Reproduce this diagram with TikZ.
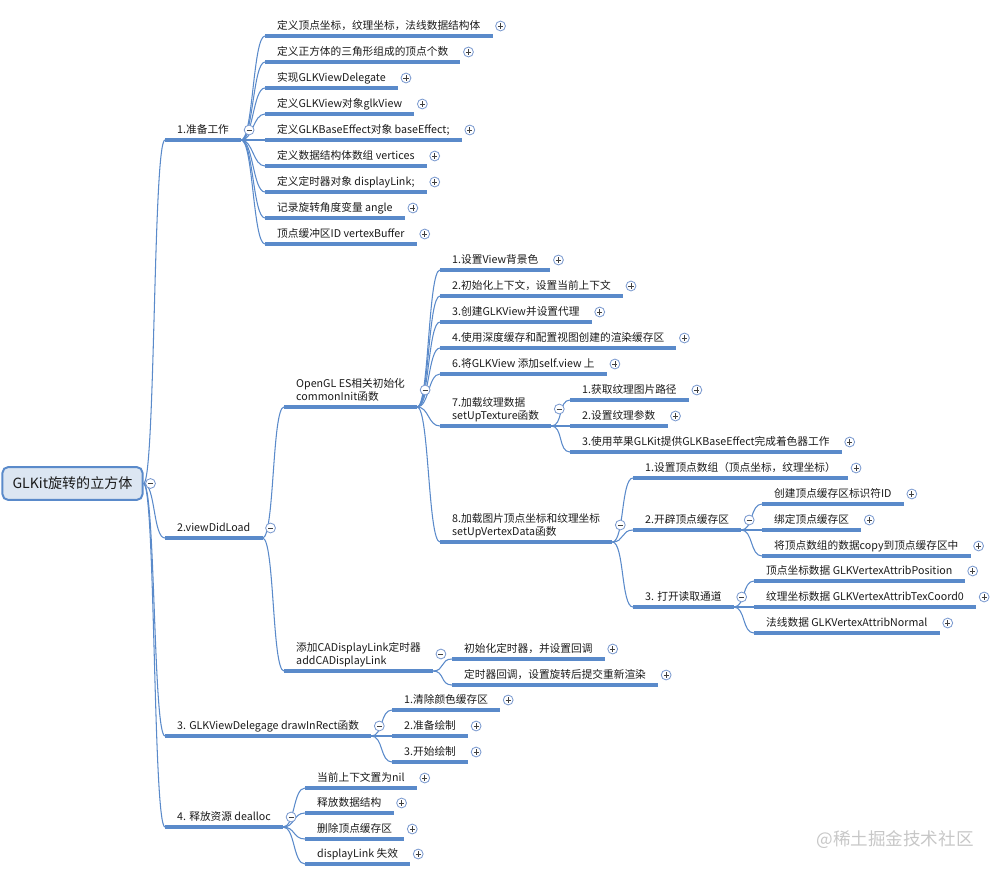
\documentclass[tikz,border=0pt]{standalone}
\usepackage{fontspec}
\setmainfont{Noto Sans CJK SC}
\usetikzlibrary{calc}
\definecolor{lnblue}{HTML}{5A8ACA}
\definecolor{rootfill}{HTML}{DCE6F2}
\definecolor{togblue}{HTML}{7C9BD0}
\definecolor{txtgray}{HTML}{1A1A1A}
\newcommand{\twoline}[2]{\begin{tabular}[b]{@{}l@{}}#1\\#2\end{tabular}}
\newcommand{\mmlink}[2]{\draw[link] (#1) .. controls +(12,0) and +(-12,0) .. (#2.south west);}
\newcommand{\mmtog}[3]{\node[#2] (#1-t) at ($(#1.south east)+(8,#3)$) {};}
\tikzset{
  topic/.style  = {anchor=south west, inner xsep=8.5pt, inner ysep=0pt,
                   text height=6.2pt, text depth=4.2pt, text=txtgray,
                   font=\fontsize{7.6pt}{9.3pt}\selectfont,
                   append after command={(\tikzlastnode.south west) edge[uline] (\tikzlastnode.south east)}},
  uline/.style  = {draw=lnblue, line width=2.6pt},
  link/.style   = {draw=lnblue, line width=0.75pt},
  tog/.style    = {circle, draw=togblue, fill=white, line width=0.6pt,
                   minimum size=7pt, inner sep=0pt},
  tminus/.style = {tog, path picture={\draw[black!75, line width=0.5pt]
                   ($(path picture bounding box.center)+(-1.8pt,0)$) -- ++(3.6pt,0);}},
  tplus/.style  = {tog, path picture={\draw[black!75, line width=0.5pt]
                   ($(path picture bounding box.center)+(-1.8pt,0)$) -- ++(3.6pt,0)
                   ($(path picture bounding box.center)+(0,-1.8pt)$) -- ++(0,3.6pt);}},
  rootbox/.style= {draw=lnblue, fill=rootfill, line width=1.4pt, rounded corners=4pt,
                   minimum width=3.5cm, minimum height=0.82cm, text=txtgray,
                   font=\fontsize{10pt}{12pt}\selectfont},
}

\begin{document}
\begin{tikzpicture}[x=0.025cm, y=-0.025cm]
  \useasboundingbox (0,0) rectangle (1000,875);
  \node[rootbox] (root) at (72.5,483.5) {GLKit旋转的立方体};

  \node[topic] (p1) at (165,140) {1.准备工作};
  \node[topic] (p2) at (165,538) {2.viewDidLoad};
  \node[topic] (p3) at (165,736) {3. GLKViewDelegage drawInRect函数};
  \node[topic] (p4) at (165,827) {4. 释放资源 dealloc};
  \foreach \n in {p1,p2,p3,p4} {\mmlink{root.east}{\n}}

  \foreach \t [count=\i] in {
    定义顶点坐标，纹理坐标，法线数据结构体,
    定义正方体的三角形组成的顶点个数,
    实现GLKViewDelegate,
    定义GLKView对象glkView,
    定义GLKBaseEffect对象 baseEffect;,
    定义数据结构体数组 vertices,
    定义定时器对象 displayLink;,
    记录旋转角度变量 angle,
    顶点缓冲区ID vertexBuffer} {
    \node[topic] (a\i) at (265,10+26*\i) {\t};
    \mmlink{p1.south east}{a\i}
  }

  \node[topic] (b1) at (284,407) {\twoline{OpenGL ES相关初始化}{commonInit函数}};
  \node[topic] (b2) at (284,671) {\twoline{添加CADisplayLink定时器}{addCADisplayLink}};
  \mmlink{p2.south east}{b1}
  \mmlink{p2.south east}{b2}

  \foreach \t [count=\i] in {
    1.设置View背景色,
    2.初始化上下文，设置当前上下文,
    3.创建GLKView并设置代理,
    4.使用深度缓存和配置视图创建的渲染缓存区,
    6.将GLKView 添加self.view 上} {
    \node[topic] (c\i) at (440,244+26*\i) {\t};
    \mmlink{b1.south east}{c\i}
  }
  \node[topic] (c6) at (440,426) {\twoline{7.加载纹理数据}{setUpTexture函数}};
  \node[topic] (c7) at (440,542) {\twoline{8.加载图片顶点坐标和纹理坐标}{setUpVertexData函数}};
  \mmlink{b1.south east}{c6}
  \mmlink{b1.south east}{c7}

  \node[topic] (d1) at (570,400) {1.获取纹理图片路径};
  \node[topic] (d2) at (570,426) {2.设置纹理参数};
  \node[topic] (d3) at (570,452) {3.使用苹果GLKit提供GLKBaseEffect完成着色器工作};
  \foreach \n in {d1,d2,d3} {\mmlink{c6.south east}{\n}}

  \node[topic] (e1) at (633,478) {1.设置顶点数组（顶点坐标，纹理坐标）};
  \node[topic] (e2) at (633,530) {2.开辟顶点缓存区};
  \node[topic] (e3) at (633,607) {3. 打开读取通道};
  \foreach \n in {e1,e2,e3} {\mmlink{c7.south east}{\n}}

  \node[topic] (f1) at (762,504) {创建顶点缓存区标识符ID};
  \node[topic] (f2) at (762,530) {绑定顶点缓存区};
  \node[topic] (f3) at (762,556) {将顶点数组的数据copy到顶点缓存区中};
  \foreach \n in {f1,f2,f3} {\mmlink{e2.south east}{\n}}

  \node[topic] (g1) at (754,581) {顶点坐标数据 GLKVertexAttribPosition};
  \node[topic] (g2) at (754,607) {纹理坐标数据 GLKVertexAttribTexCoord0};
  \node[topic] (g3) at (754,633) {法线数据 GLKVertexAttribNormal};
  \foreach \n in {g1,g2,g3} {\mmlink{e3.south east}{\n}}

  \node[topic] (h1) at (452,659) {初始化定时器，并设置回调};
  \node[topic] (h2) at (452,685) {定时器回调，设置旋转后提交重新渲染};
  \foreach \n in {h1,h2} {\mmlink{b2.south east}{\n}}

  \node[topic] (i1) at (392,710) {1.清除颜色缓存区};
  \node[topic] (i2) at (392,736) {2.准备绘制};
  \node[topic] (i3) at (392,762) {3.开始绘制};
  \foreach \n in {i1,i2,i3} {\mmlink{p3.south east}{\n}}

  \node[topic] (j1) at (305,788) {当前上下文置为nil};
  \node[topic] (j2) at (305,813) {释放数据结构};
  \node[topic] (j3) at (305,839) {删除顶点缓存区};
  \node[topic] (j4) at (305,864) {displayLink 失效};
  \foreach \n in {j1,j2,j3,j4} {\mmlink{p4.south east}{\n}}

  \node[tminus] (root-t) at ($(root.east)+(7,0)$) {};
  \foreach \n in {a1,a2,a3,a4,a5,a6,a7,a8,a9,c1,c2,c3,c4,c5,d1,d2,d3,e1,
                  f1,f2,f3,g1,g2,g3,h1,h2,i1,i2,i3,j1,j2,j3,j4}
    {\mmtog{\n}{tplus}{-10}}
  \foreach \n in {p1,p2,p3,p4,e2,e3} {\mmtog{\n}{tminus}{-10}}
  \foreach \n in {b1,b2,c6,c7} {\mmtog{\n}{tminus}{-17}}

  \node[text=black!22, font=\fontsize{12.5pt}{14pt}\selectfont] (wm) at (895,840) {@稀土掘金技术社区};
\end{tikzpicture}
\end{document}
